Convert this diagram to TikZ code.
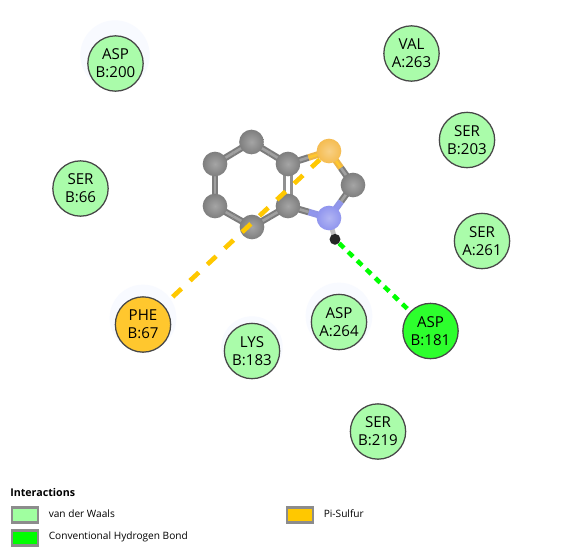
\documentclass[tikz,border=0pt]{standalone}
\usepackage{fontspec}
\setmainfont{Open Sans}
\newfontfamily\legendfont{Open Sans}
\usetikzlibrary{calc}
\definecolor{vdw}{HTML}{AAFCAA}
\definecolor{hbond}{HTML}{2DFF2D}
\definecolor{pisul}{HTML}{FFC72E}
\definecolor{halo}{HTML}{F8FAFF}
\tikzset{
  x=0.75pt,y=-0.75pt,
  residue/.style={circle,draw=black!72,line width=0.95pt,minimum size=41.5pt,inner sep=0pt,align=center,font=\fontsize{11.3}{13.5}\selectfont,text=black},
  vdwres/.style={residue,fill=vdw},
  hres/.style={residue,fill=hbond},
  pires/.style={residue,fill=pisul},
  haloc/.style={circle,fill=halo,draw=none,inner sep=0pt,minimum size=#1},
  atomc/.style={circle,inner sep=0pt,minimum size=18.5pt,shade,inner color=#1!70!white,outer color=#1},
  bondg/.style={line width=5pt,draw=#1},
  bondl/.style={line width=2pt,draw=#1},
  keybox/.style={draw=black!45,line width=2pt,minimum width=19.5pt,minimum height=11pt,inner sep=0pt},
  keytext/.style={anchor=west,inner sep=0pt,font=\legendfont\fontsize{7.6}{9}\selectfont},
  pisulfur/.style={draw=keyorange,line width=3.5pt,dash pattern=on 9pt off 8.8pt},
  hline/.style={draw=green,line width=3.4pt,dash pattern=on 5pt off 4.4pt},
}
\definecolor{keyorange}{HTML}{FFC800}
\definecolor{keygreen}{HTML}{A0FFA0}
\definecolor{cgrey}{HTML}{7E7E7E}
\definecolor{sgold}{HTML}{F5BC50}
\definecolor{nblue}{HTML}{9095EE}
\definecolor{bgrey}{HTML}{7C7C7C}
\definecolor{bhi}{HTML}{A0A0A0}
\definecolor{bgold}{HTML}{EDB545}
\definecolor{bblue}{HTML}{9095E5}
\newcommand{\halfbond}[4]{%
  \draw[bondg=#3] (#1) -- ($(#1)!.5!(#2)$);
  \draw[bondl=#4] (#1) -- ($(#1)!.5!(#2)$);}
\begin{document}
\begin{tikzpicture}
\useasboundingbox (0,0) rectangle (563,557);
\fill[white] (0,0) rectangle (563,557);
% halos
\node[haloc=52pt] (h1) at (115,55) {};
\node[haloc=50pt] (h2) at (143,318) {};
\node[haloc=50pt] (h3) at (339,316) {};
\node[haloc=46pt] (h4) at (252,347) {};
% atom positions
\coordinate (c1) at (251.5,142);
\coordinate (c2) at (215,164);
\coordinate (c3) at (215,206);
\coordinate (c4) at (252,227);
\coordinate (c5) at (288,206);
\coordinate (c6) at (288,164);
\coordinate (s) at (329,151);
\coordinate (c7) at (353,185);
\coordinate (n) at (329,218);
\coordinate (hh) at (335,239.3);
% bonds
\halfbond{c1}{c2}{bgrey}{bhi}\halfbond{c2}{c1}{bgrey}{bhi}
\halfbond{c2}{c3}{bgrey}{bhi}\halfbond{c3}{c2}{bgrey}{bhi}
\halfbond{c3}{c4}{bgrey}{bhi}\halfbond{c4}{c3}{bgrey}{bhi}
\halfbond{c4}{c5}{bgrey}{bhi}\halfbond{c5}{c4}{bgrey}{bhi}
\halfbond{c6}{c1}{bgrey}{bhi}\halfbond{c1}{c6}{bgrey}{bhi}
\halfbond{c6}{s}{bgrey}{bhi}\halfbond{s}{c6}{bgold}{pisul}
\halfbond{s}{c7}{bgold}{pisul}\halfbond{c7}{s}{bgrey}{bhi}
\halfbond{c7}{n}{bgrey}{bhi}\halfbond{n}{c7}{bblue}{nblue}
\halfbond{n}{c5}{bblue}{nblue}\halfbond{c5}{n}{bgrey}{bhi}
\draw[line width=1.9pt,draw=bgrey!85!white] ([xshift=-2.5]c5) -- ([xshift=-2.5]c6);
\draw[line width=1.9pt,draw=bgrey!85!white] ([xshift=2.5]c5) -- ([xshift=2.5]c6);
\draw[line width=3.6pt,draw=black!25] (n) -- (hh);
% atoms
\node[atomc=cgrey] (ac1) at (c1) {};
\node[atomc=cgrey] (ac2) at (c2) {};
\node[atomc=cgrey] (ac3) at (c3) {};
\node[atomc=cgrey] (ac4) at (c4) {};
\node[atomc=cgrey] (ac5) at (c5) {};
\node[atomc=cgrey] (ac6) at (c6) {};
\node[atomc=sgold] (as) at (s) {};
\node[atomc=cgrey] (ac7) at (c7) {};
\node[atomc=nblue] (an) at (n) {};
\node[circle,fill=black!85,inner sep=0pt,minimum size=8.2pt] (ah) at (hh) {};
% residues
\node[vdwres] (r1) at (115.5,63.5) {ASP\\B:200};
\node[vdwres] (r2) at (411.5,53.5) {VAL\\A:263};
\node[vdwres] (r3) at (467,140) {SER\\B:203};
\node[vdwres] (r4) at (80.5,188.5) {SER\\B:66};
\node[vdwres] (r5) at (482,241) {SER\\A:261};
\node[pires] (r6) at (143,324.5) {PHE\\B:67};
\node[vdwres] (r7) at (252,351) {LYS\\B:183};
\node[vdwres] (r8) at (339,322) {ASP\\A:264};
\node[hres] (r9) at (430.5,331) {ASP\\B:181};
\node[vdwres] (r10) at (378,431.5) {SER\\B:219};
% interactions
\draw[pisulfur,shorten <=9.2pt] (r6) -- (as);
\draw[hline] (ah) -- (r9);
% legend
\node[anchor=west,inner sep=0pt,font=\legendfont\bfseries\fontsize{8}{9.5}\selectfont] (lt) at (10,492) {Interactions};
\node[keybox,fill=keygreen,anchor=west] (k1) at (10.5,515) {};
\node[keybox,fill=green,anchor=west] (k2) at (10.5,538) {};
\node[keybox,fill=keyorange,anchor=west] (k3) at (285.5,515) {};
\node[keytext] (t1) at (48.5,514) {van der Waals};
\node[keytext] (t2) at (48.5,537) {Conventional Hydrogen Bond};
\node[keytext] (t3) at (323.5,514) {Pi-Sulfur};
\end{tikzpicture}
\end{document}
